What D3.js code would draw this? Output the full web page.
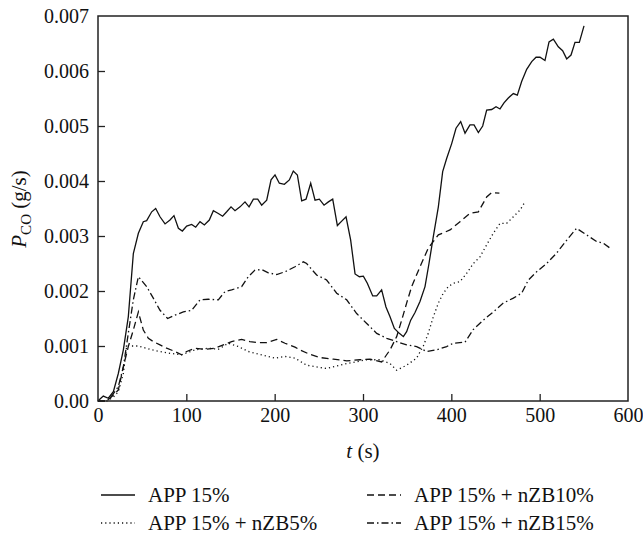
<!DOCTYPE html>
<html><head><meta charset="utf-8">
<script src="https://cdn.jsdelivr.net/npm/d3@7"></script>
<style>body{margin:0;background:#fff}svg{display:block}</style>
</head><body><div id="chart"></div>
<script>
// ---- data (time in s, P_CO in g/s) ----
const seriesNames = ["APP 15%", "APP 15% + nZB5%", "APP 15% + nZB10%", "APP 15% + nZB15%"];
const tApp = [0,1.1,6,11.7,17.4,23,28.7,34.3,40,45.7,51.3,55.1,60.8,65.3,70.2,75.9,81.5,86,91,95.5,100.4,106,110.6,115.5,120.4,126,130.6,136.2,141.1,145.7,150.6,155.1,160.8,166.4,171,175.9,180.8,185.3,191,195.9,200.4,205.3,211,216.6,221.1,225.7,230.6,235.5,240.8,245.7,250.6,255.9,260.8,265.7,271,275.9,280.8,286,291,295.9,300.4,304.9,311,315.5,321.1,326,330.6,335.5,341.1,345.7,349.4,354,358.9,364.5,370.2,374.7,379.6,385.3,390.2,394.7,400.4,405.3,410.6,415.5,421.1,425.7,430.6,435.5,440,445.7,450.6,455.1,459.6,464.5,470.2,474.7,479.6,485.3,491,495.9,500.4,506,510.6,515.5,521.1,526,530.6,535.5,540,544.9,550.2];
const vApp = [0.00000,0.00002,0.00009,0.00005,0.00017,0.00050,0.00093,0.00153,0.00268,0.00305,0.00326,0.00328,0.00344,0.00350,0.00335,0.00322,0.00329,0.00337,0.00314,0.00309,0.00318,0.00321,0.00316,0.00326,0.00320,0.00329,0.00346,0.00341,0.00336,0.00344,0.00353,0.00346,0.00353,0.00362,0.00353,0.00367,0.00367,0.00356,0.00365,0.00402,0.00411,0.00396,0.00394,0.00402,0.00418,0.00411,0.00364,0.00367,0.00396,0.00365,0.00367,0.00356,0.00362,0.00367,0.00319,0.00327,0.00335,0.00293,0.00231,0.00226,0.00227,0.00214,0.00191,0.00191,0.00202,0.00171,0.00153,0.00132,0.00123,0.00117,0.00126,0.00147,0.00161,0.00181,0.00208,0.00250,0.00299,0.00353,0.00417,0.00441,0.00468,0.00496,0.00508,0.00487,0.00502,0.00502,0.00488,0.00500,0.00529,0.00530,0.00535,0.00531,0.00542,0.00551,0.00559,0.00556,0.00581,0.00603,0.00617,0.00625,0.00625,0.00619,0.00653,0.00658,0.00644,0.00637,0.00622,0.00629,0.00652,0.00652,0.00682];
const tZB5 = [0,10,17.4,23,28.7,32.5,45.7,60.8,79.8,94.7,109.8,124.9,136.2,147.5,158.9,170.2,185.3,200.4,211.7,223,236.2,258.8,281.5,304.2,319.3,330.6,338.1,349.4,360.7,368.3,373.9,379.6,385.3,390.9,396.6,402.3,409.8,417.3,424.9,432.4,440,447.5,455.1,462.6,470.2,477.7,483.4];
const vZB5 = [0.00000,0.00000,0.00007,0.00017,0.00050,0.00100,0.00100,0.00093,0.00087,0.00084,0.00093,0.00096,0.00094,0.00105,0.00099,0.00090,0.00084,0.00078,0.00081,0.00078,0.00065,0.00059,0.00068,0.00075,0.00075,0.00068,0.00056,0.00065,0.00078,0.00100,0.00123,0.00153,0.00178,0.00196,0.00208,0.00214,0.00217,0.00232,0.00250,0.00262,0.00284,0.00305,0.00323,0.00323,0.00335,0.00347,0.00362];
const tZB10 = [0,10,17.4,23,28.7,34.3,40,45.7,51.3,57,62.6,70.2,77.7,87.2,94.7,100.4,109.8,121,132.5,141.9,151.3,162.6,172,181.5,191,202.3,211.7,223,228.3,239.6,251.3,266.4,281.5,296.6,307.9,321.1,330.6,338.1,343.8,349.4,355.1,364.5,373.9,385.3,398.5,409.8,421.1,430.6,440,445.7,454.4];
const vZB10 = [0.00000,0.00000,0.00011,0.00020,0.00062,0.00099,0.00129,0.00162,0.00129,0.00114,0.00108,0.00102,0.00096,0.00090,0.00084,0.00090,0.00096,0.00094,0.00096,0.00102,0.00108,0.00112,0.00108,0.00106,0.00106,0.00112,0.00105,0.00098,0.00093,0.00085,0.00079,0.00076,0.00073,0.00075,0.00076,0.00071,0.00093,0.00117,0.00147,0.00178,0.00208,0.00244,0.00278,0.00302,0.00311,0.00326,0.00341,0.00344,0.00371,0.00379,0.00378];
const tZB15 = [0,10,15.5,23,28.7,34.3,40,45.7,55.1,62.6,70.2,78.8,87.2,96.6,106,115.5,124.9,136.2,143.8,151.3,162.6,170.2,177.7,185.3,192.8,202.3,211.7,223,232.4,236.2,247.5,258.8,270.2,281.5,292.8,304.2,315.5,326.8,338.1,349.4,360.7,372,383.3,394.7,402.3,415.5,424.9,436.2,447.5,458.8,470.2,479.6,487.2,496.6,507.9,519.2,532.4,541.8,553.2,564.5,572,579.6];
const vZB15 = [0.00000,0.00000,0.00009,0.00026,0.00062,0.00123,0.00184,0.00226,0.00208,0.00187,0.00165,0.00150,0.00156,0.00162,0.00165,0.00184,0.00185,0.00184,0.00199,0.00202,0.00208,0.00226,0.00238,0.00239,0.00233,0.00230,0.00235,0.00244,0.00253,0.00250,0.00229,0.00220,0.00196,0.00184,0.00159,0.00141,0.00123,0.00114,0.00108,0.00102,0.00099,0.00090,0.00093,0.00099,0.00105,0.00107,0.00130,0.00147,0.00162,0.00178,0.00187,0.00196,0.00220,0.00235,0.00250,0.00269,0.00296,0.00314,0.00302,0.00290,0.00287,0.00278];
const xTicks = [0,100,200,300,400,500,600];
const yTicks = [0,0.001,0.002,0.003,0.004,0.005,0.006,0.007];
const yTickLabels = ["0.00","0.001","0.002","0.003","0.004","0.005","0.006","0.007"];

// ---- layout ----
const FONT = '"Liberation Serif", "Times New Roman", Times, "DejaVu Serif", serif';
const W = 643, H = 535;
const L = 98, R = 628, T = 16, B = 401;
const svg = d3.select("#chart").append("svg").attr("width", W).attr("height", H)
  .attr("font-family", FONT).style("font-family", FONT);
const x = d3.scaleLinear().domain([0, 600]).range([L, R]);
const y = d3.scaleLinear().domain([0, 0.007]).range([B, T]);

const styles = [
  {dash: null, w: 1.3},
  {dash: "1.2,3", w: 1.3},
  {dash: "7,4", w: 1.3},
  {dash: "7,3,1.5,3", w: 1.3}
];
const series = [
  {t: tApp, v: vApp}, {t: tZB5, v: vZB5}, {t: tZB10, v: vZB10}, {t: tZB15, v: vZB15}
];
const line = d3.line().x(d => x(d[0])).y(d => y(d[1]));
series.forEach((s, i) => {
  const pts = s.t.map((t, k) => [t, s.v[k]]);
  svg.append("path").datum(pts).attr("d", line)
    .attr("fill", "none").attr("stroke", "#111").attr("stroke-width", styles[i].w)
    .attr("stroke-dasharray", styles[i].dash);
});

// frame
svg.append("rect").attr("x", L).attr("y", T).attr("width", R - L).attr("height", B - T)
  .attr("fill", "none").attr("stroke", "#222").attr("stroke-width", 1.5);

// axes
const xAxis = d3.axisBottom(x).tickValues(xTicks).tickSizeInner(-7).tickSizeOuter(0).tickPadding(7);
const gx = svg.append("g").attr("transform", `translate(0,${B})`).call(xAxis);
const yAxis = d3.axisLeft(y).tickValues(yTicks).tickSizeInner(-7).tickSizeOuter(0).tickPadding(9)
  .tickFormat((d, i) => yTickLabels[i]);
const gy = svg.append("g").attr("transform", `translate(${L},0)`).call(yAxis);
[gx, gy].forEach(g => {
  g.attr("font-family", FONT).attr("font-size", 20);
  g.select(".domain").remove();
  g.selectAll(".tick line").attr("stroke", "#222").attr("stroke-width", 1.3);
  g.selectAll(".tick text").attr("fill", "#111");
});
gy.selectAll(".tick").filter(d => d === 0 || d === 0.007).select("line").remove();
gx.selectAll(".tick").filter(d => d === 0 || d === 600).select("line").remove();

// axis titles
const xt = svg.append("text").attr("x", 363).attr("y", 458).attr("text-anchor", "middle")
  .attr("font-size", 21).attr("fill", "#111");
xt.append("tspan").attr("font-style", "italic").text("t");
xt.append("tspan").text(" (s)");
const yt = svg.append("text").attr("transform", "translate(26,209) rotate(-90)").attr("text-anchor", "middle")
  .attr("font-size", 21).attr("fill", "#111");
yt.append("tspan").attr("font-style", "italic").text("P");
yt.append("tspan").attr("dy", 5).attr("font-size", 15).text("CO");
yt.append("tspan").attr("dy", -5).text(" (g/s)");

// legend
const legPos = [[101, 495], [101, 523], [367, 495], [367, 523]];
seriesNames.forEach((name, i) => {
  const [lx, ly] = legPos[i];
  svg.append("line").attr("x1", lx).attr("x2", lx + 34).attr("y1", ly).attr("y2", ly)
    .attr("stroke", "#111").attr("stroke-width", 1.3).attr("stroke-dasharray", styles[i].dash);
  svg.append("text").attr("x", lx + 47).attr("y", ly + 7).attr("font-size", 21).attr("fill", "#111").text(name);
});
</script></body></html>
